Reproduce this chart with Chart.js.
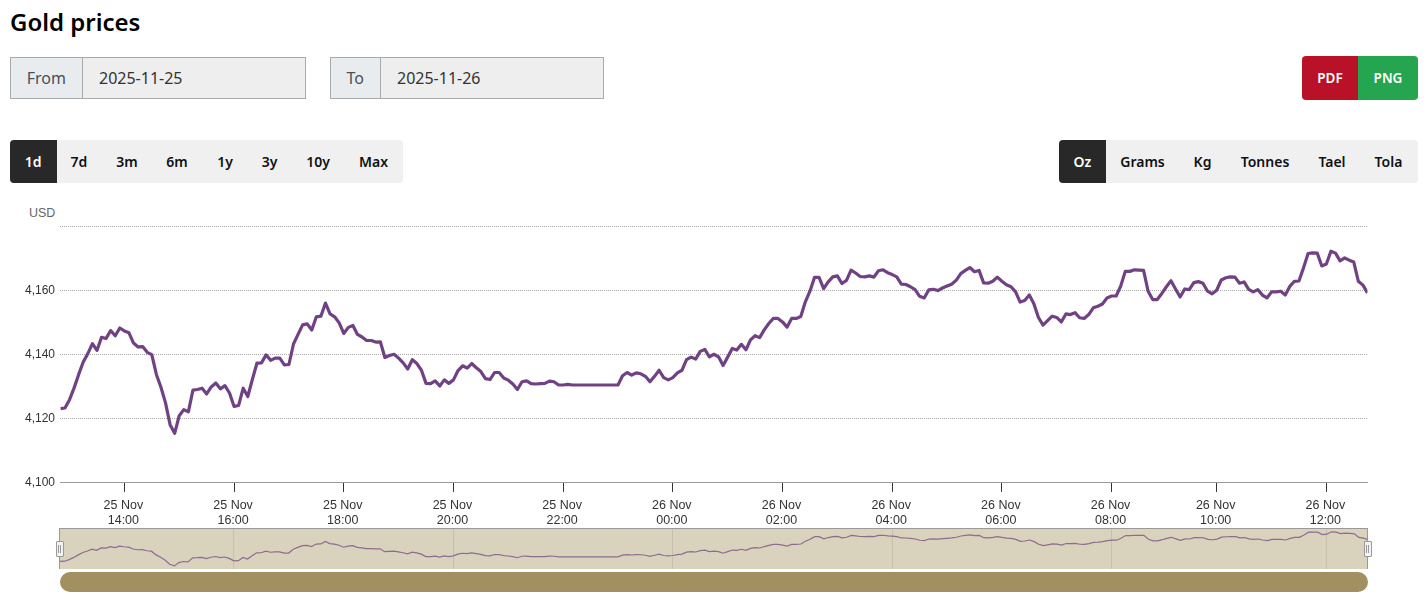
<!DOCTYPE html>
<html>
<head>
<meta charset="utf-8">
<title>Gold prices</title>
<script src="https://cdn.jsdelivr.net/npm/chart.js@4"></script>
<style>
  html, body { margin: 0; padding: 0; background: #fff; overflow: hidden; }
  body { width: 1428px; height: 601px; position: relative; font-family: "Noto Sans", sans-serif; color: #000; }
  .abs { position: absolute; box-sizing: border-box; }
  h1 { position: absolute; left: 10px; top: 6px; margin: 0; font-size: 24px; line-height: 32px; font-weight: 600; }
  .field { display: flex; align-items: center; justify-content: flex-start; top: 57px; height: 42px; font-size: 16px; color: #333; background: #eee; border: 1px solid #aaa; }
  .field .addon { display: flex; align-items: center; justify-content: center; height: 100%; color: #495057; background: #e9ecef; border-right: 1px solid #aaa; box-sizing: border-box; }
  .group { top: 140px; height: 43px; background: #f0f0f0; border-radius: 4px; }
  .btn { position: absolute; top: 0; height: 43px; line-height: 43px; text-align: center; font-size: 14px; font-weight: 600; color: #111; }
  .btn.on { background: #282828; color: #fff; border-radius: 4px 0 0 4px; }
  .export { top: 56px; height: 44px; line-height: 44px; text-align: center; color: #fff; font-size: 13.5px; font-weight: 600; }
  canvas { display: block; }
</style>
</head>
<body>
<h1>Gold prices</h1>

<div class="abs field" style="left:10px;width:296px"><div class="addon" style="width:71.5px">From</div><span style="margin-left:16.5px">2025-11-25</span></div>
<div class="abs field" style="left:330px;width:274px"><div class="addon" style="width:49.5px">To</div><span style="margin-left:16.5px">2025-11-26</span></div>

<div class="abs export" style="left:1302px;width:56px;background:#b91228;border-radius:4px 0 0 4px">PDF</div>
<div class="abs export" style="left:1358px;width:60px;background:#26a551;border-radius:0 4px 4px 0">PNG</div>

<div class="abs group" style="left:10px;width:393px">
  <div class="btn on" style="left:0;width:46.5px">1d</div>
  <div class="btn" style="left:47px;width:44px">7d</div>
  <div class="btn" style="left:91px;width:52px">3m</div>
  <div class="btn" style="left:142px;width:50px">6m</div>
  <div class="btn" style="left:192px;width:46px">1y</div>
  <div class="btn" style="left:238px;width:43px">3y</div>
  <div class="btn" style="left:280px;width:56px">10y</div>
  <div class="btn" style="left:336px;width:55px">Max</div>
</div>

<div class="abs group" style="left:1059px;width:359px">
  <div class="btn on" style="left:0;width:47px">Oz</div>
  <div class="btn" style="left:47px;width:73px">Grams</div>
  <div class="btn" style="left:120px;width:47px">Kg</div>
  <div class="btn" style="left:167px;width:78px">Tonnes</div>
  <div class="btn" style="left:245px;width:56px">Tael</div>
  <div class="btn" style="left:301px;width:57px">Tola</div>
</div>

<div class="abs" style="left:29px;top:206px;font:12.5px 'Liberation Sans',sans-serif;color:#666">USD</div>

<canvas id="price-chart" class="abs" width="1428" height="328" style="left:0;top:200px"></canvas>

<!-- navigator strip under the main chart -->
<canvas id="nav-chart" class="abs" width="1308" height="41" style="left:60px;top:528px;background:#d9d2bd"></canvas>
<div class="abs" style="left:59px;top:528px;width:1309px;height:41px;border:1px solid #999;border-bottom:0"></div>
<div class="abs" style="left:55.5px;top:541px;width:8px;height:15.5px;background:#f2f2f2;border:1px solid #999;border-radius:1px"></div>
<div class="abs" style="left:58px;top:545px;width:3px;height:8px;border-left:1px solid #999;border-right:1px solid #999"></div>
<div class="abs" style="left:1363.5px;top:541px;width:8px;height:15.5px;background:#f2f2f2;border:1px solid #999;border-radius:1px"></div>
<div class="abs" style="left:1366px;top:545px;width:3px;height:8px;border-left:1px solid #999;border-right:1px solid #999"></div>
<div class="abs" style="left:60px;top:572px;width:1308px;height:20px;background:#a39061;border-radius:10px"></div>

<script>
// USD per oz, one sample per 5 minutes starting 25 Nov 12:50
const prices = [
  4123.2, 4123.4, 4126.0, 4129.7, 4133.9, 4137.8, 4140.4, 4143.5, 4141.4, 4145.5,
  4145.1, 4147.6, 4146.0, 4148.4, 4147.5, 4146.9, 4143.7, 4142.5, 4142.6, 4140.8,
  4140.1, 4133.9, 4129.9, 4125.0, 4118.2, 4115.5, 4121.0, 4122.9, 4122.2, 4129.0,
  4129.2, 4129.6, 4127.8, 4130.0, 4131.2, 4129.4, 4130.4, 4128.1, 4123.9, 4124.2,
  4129.6, 4127.0, 4132.3, 4137.4, 4137.5, 4140.0, 4138.3, 4139.0, 4139.0, 4136.9,
  4137.0, 4143.4, 4146.4, 4149.4, 4149.7, 4147.8, 4151.9, 4152.1, 4156.2, 4152.8,
  4151.9, 4150.0, 4146.7, 4148.6,
  4149.2, 4146.4, 4145.6, 4144.5, 4144.5, 4144.0, 4144.1, 4139.2, 4139.8, 4140.2,
  4139.0, 4137.5, 4135.6, 4138.5, 4137.3, 4135.2, 4131.1, 4131.0, 4131.9, 4130.3,
  4132.2, 4131.1, 4132.2, 4135.1, 4136.6, 4135.9, 4137.3, 4136.0, 4134.8, 4132.6,
  4132.3, 4134.5, 4134.5, 4132.8, 4132.1, 4130.9, 4129.2, 4131.6, 4131.9, 4131.0,
  4130.9, 4131.0, 4131.1, 4131.8, 4131.6, 4130.6,
  4130.6, 4130.8, 4130.6, 4130.6, 4130.6, 4130.6, 4130.6, 4130.6, 4130.6, 4130.6, 4130.6, 4130.6, 4130.6,
  4133.5, 4134.5, 4133.7, 4134.4, 4134.1, 4133.3, 4131.6, 4133.3, 4135.2, 4132.9,
  4132.2, 4132.9, 4134.4, 4135.2, 4138.5, 4139.3, 4138.7, 4141.1,
  4141.7, 4139.4, 4140.2, 4139.4, 4136.7, 4139.3, 4142.0, 4141.5, 4143.3, 4141.6,
  4144.7, 4146.0, 4145.4, 4147.8, 4149.8, 4151.4, 4151.4, 4150.3, 4148.7, 4151.4,
  4151.4, 4152.0, 4156.6, 4159.9, 4164.2, 4164.2, 4160.7, 4162.8, 4164.4, 4164.7,
  4162.3, 4163.3, 4166.5, 4165.6, 4164.5, 4164.4, 4164.7, 4164.3, 4166.3, 4166.6,
  4165.7, 4165.1, 4164.4, 4162.1, 4162.0, 4161.3, 4160.4, 4158.3, 4157.8, 4160.3,
  4160.5, 4160.1, 4160.9, 4161.5, 4162.1, 4163.3, 4165.4, 4166.4, 4167.3, 4166.0,
  4166.4, 4162.5, 4162.4, 4163.0, 4164.3, 4163.0, 4161.9, 4161.3, 4159.7, 4156.5,
  4157.0, 4158.7, 4156.0, 4151.7, 4149.3, 4150.7,
  4152.1, 4151.7, 4150.3, 4152.8, 4152.6, 4153.2, 4151.6, 4151.4, 4152.6, 4154.7,
  4155.2, 4155.9, 4157.8, 4158.4, 4158.4, 4161.5, 4166.1, 4166.1, 4166.6, 4166.5,
  4166.4, 4159.9, 4157.3, 4157.3, 4159.2, 4161.3, 4163.2, 4160.6, 4158.1, 4160.6,
  4160.4, 4162.6, 4162.9, 4162.4, 4159.9, 4159.1, 4160.2, 4163.4, 4164.1, 4164.4,
  4164.3, 4162.4, 4162.8, 4160.5, 4159.7, 4160.4, 4158.7, 4157.8, 4159.7, 4159.7,
  4159.9, 4158.7, 4161.4, 4163.0, 4163.1, 4167.2, 4171.7, 4171.9, 4171.8, 4167.8,
  4168.4, 4172.4, 4171.8, 4169.4, 4170.3, 4169.6, 4169.0, 4163.0, 4161.8, 4159.4
];

// sample index of each labelled tick (the axis is ordinal, so one gap squeezes 08:00-10:00)
const tickIndexes = [14, 38, 62, 86, 110, 134, 158, 182, 206, 230, 253, 277];
const tickDays = ['25 Nov', '25 Nov', '25 Nov', '25 Nov', '25 Nov', '26 Nov', '26 Nov', '26 Nov', '26 Nov', '26 Nov', '26 Nov', '26 Nov'];
const tickTimes = ['14:00', '16:00', '18:00', '20:00', '22:00', '00:00', '02:00', '04:00', '06:00', '08:00', '10:00', '12:00'];
const navGridIndexes = [38, 86, 134, 182, 230, 277];

const yTickValues = [4100, 4120, 4140, 4160, 4180];
const yTickLabels = ['4,100', '4,120', '4,140', '4,160', ''];

const lastIndex = prices.length - 1;
const points = prices.map((p, i) => ({ x: i, y: p }));
const labelFont = { family: '"Liberation Sans", Arial, sans-serif', size: 12 };

new Chart(document.getElementById('price-chart'), {
  type: 'line',
  data: {
    datasets: [{
      data: points,
      borderColor: '#704284',
      borderWidth: 3.2,
      pointRadius: 0,
      tension: 0,
      borderJoinStyle: 'round'
    }]
  },
  options: {
    responsive: false,
    animation: false,
    events: [],
    layout: { padding: { top: 26.9, right: 60.5, left: 0, bottom: 0 } },
    plugins: { legend: { display: false }, tooltip: { enabled: false } },
    scales: {
      x: {
        type: 'linear',
        min: 0,
        max: lastIndex,
        afterBuildTicks: axis => { axis.ticks = tickIndexes.map(v => ({ value: v })); },
        afterFit: axis => { axis.height = 45.1; },
        grid: { drawOnChartArea: false, drawTicks: true, tickLength: 9, tickColor: '#333', tickWidth: 1 },
        border: { color: '#999', width: 1 },
        ticks: {
          autoSkip: false,
          maxRotation: 0,
          minRotation: 0,
          padding: 6,
          labelOffset: -1,
          color: '#333',
          font: { family: labelFont.family, size: 12.5, lineHeight: 1.2 },
          callback: value => [tickDays[tickIndexes.indexOf(value)], tickTimes[tickIndexes.indexOf(value)]]
        }
      },
      y: {
        min: 4100,
        max: 4180,
        afterBuildTicks: axis => { axis.ticks = yTickValues.map(v => ({ value: v })); },
        afterFit: axis => { axis.width = 60.4; },
        grid: { color: '#aaa', drawTicks: false, lineWidth: 1 },
        border: { display: false, dash: [1, 1] },
        ticks: {
          padding: 5.4,
          color: '#333',
          font: labelFont,
          callback: value => yTickLabels[yTickValues.indexOf(value)]
        }
      }
    }
  }
});

new Chart(document.getElementById('nav-chart'), {
  type: 'line',
  data: {
    datasets: [{
      data: points,
      borderColor: '#8d6d8e',
      borderWidth: 1.2,
      pointRadius: 0,
      tension: 0
    }]
  },
  options: {
    responsive: false,
    animation: false,
    events: [],
    layout: { padding: 0 },
    plugins: { legend: { display: false }, tooltip: { enabled: false } },
    scales: {
      x: {
        type: 'linear',
        display: true,
        min: 0,
        max: lastIndex,
        afterBuildTicks: axis => { axis.ticks = navGridIndexes.map(v => ({ value: v })); },
        afterFit: axis => { axis.height = 0; },
        grid: { color: '#c6c0ac', drawTicks: false },
        border: { display: false },
        ticks: { display: false }
      },
      y: { display: false, min: 4110.4, max: 4178.7 }
    }
  }
});
</script>
</body>
</html>
